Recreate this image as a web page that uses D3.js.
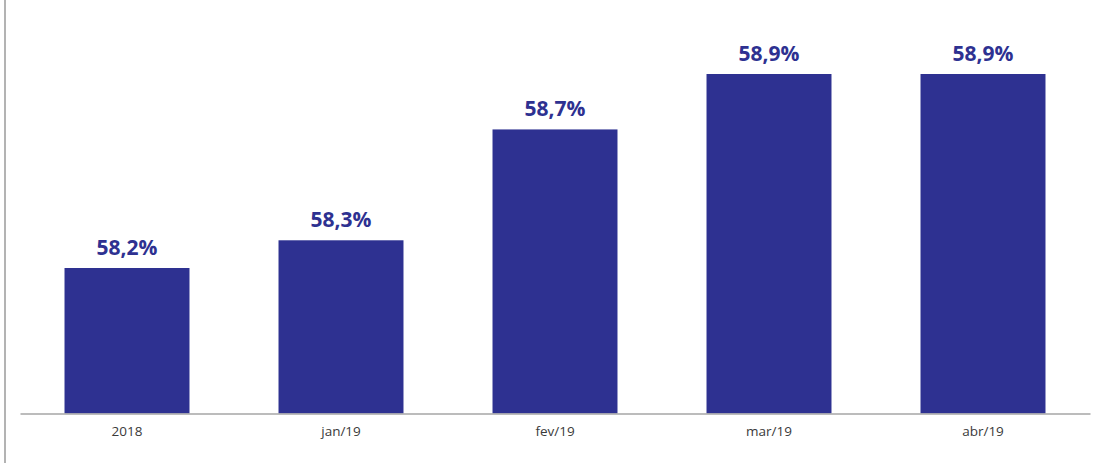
<!DOCTYPE html>
<html>
<head>
<meta charset="utf-8">
<script src="https://cdn.jsdelivr.net/npm/d3@7"></script>
<style>
  html, body { margin: 0; padding: 0; background: #fff; }
  svg { display: block; }
</style>
</head>
<body>
<svg id="chart" width="1100" height="463"></svg>
<script>
const categories = ["2018", "jan/19", "fev/19", "mar/19", "abr/19"];
const values = [58.2, 58.3, 58.7, 58.9, 58.9];
const labels = ["58,2%", "58,3%", "58,7%", "58,9%", "58,9%"];

const svg = d3.select("#chart");
const W = 1100, H = 463;
const baseY = 413.5;

// left frame border
svg.append("line")
  .attr("x1", 5).attr("x2", 5).attr("y1", 0).attr("y2", H)
  .attr("stroke", "#b3b3b3").attr("stroke-width", 2);

const x = d3.scaleBand()
  .domain(categories)
  .range([20, 1090])
  .paddingInner(0.416)
  .paddingOuter(0.208);

const y = d3.scaleLinear()
  .domain([57.675, 59.15])
  .range([baseY, baseY - 1.475 * 277.14]);

svg.selectAll("rect.bar")
  .data(values)
  .enter().append("rect")
  .attr("class", "bar")
  .attr("x", (d, i) => x(categories[i]))
  .attr("width", x.bandwidth())
  .attr("y", d => y(d))
  .attr("height", d => baseY - y(d))
  .attr("fill", "#2e3191");

// x axis
const xAxis = d3.axisBottom(x).tickSize(0).tickPadding(0);
const gx = svg.append("g").attr("transform", `translate(0,${baseY})`).call(xAxis);
gx.select(".domain").attr("stroke", "#a6a6a6").attr("stroke-width", 1.3);
gx.selectAll(".tick text")
  .attr("y", 22)
  .attr("dy", null)
  .attr("font-family", "'Open Sans', sans-serif")
  .attr("font-size", 13.5)
  .attr("fill", "#3a3a3a");

// value labels
svg.selectAll("text.val")
  .data(values)
  .enter().append("text")
  .attr("class", "val")
  .attr("x", (d, i) => x(categories[i]) + x.bandwidth() / 2)
  .attr("y", d => y(d) - 13)
  .attr("text-anchor", "middle")
  .attr("font-family", "'Open Sans', sans-serif")
  .attr("font-weight", "bold")
  .attr("font-size", 21)
  .attr("fill", "#2e3191")
  .text((d, i) => labels[i]);
</script>
</body>
</html>
